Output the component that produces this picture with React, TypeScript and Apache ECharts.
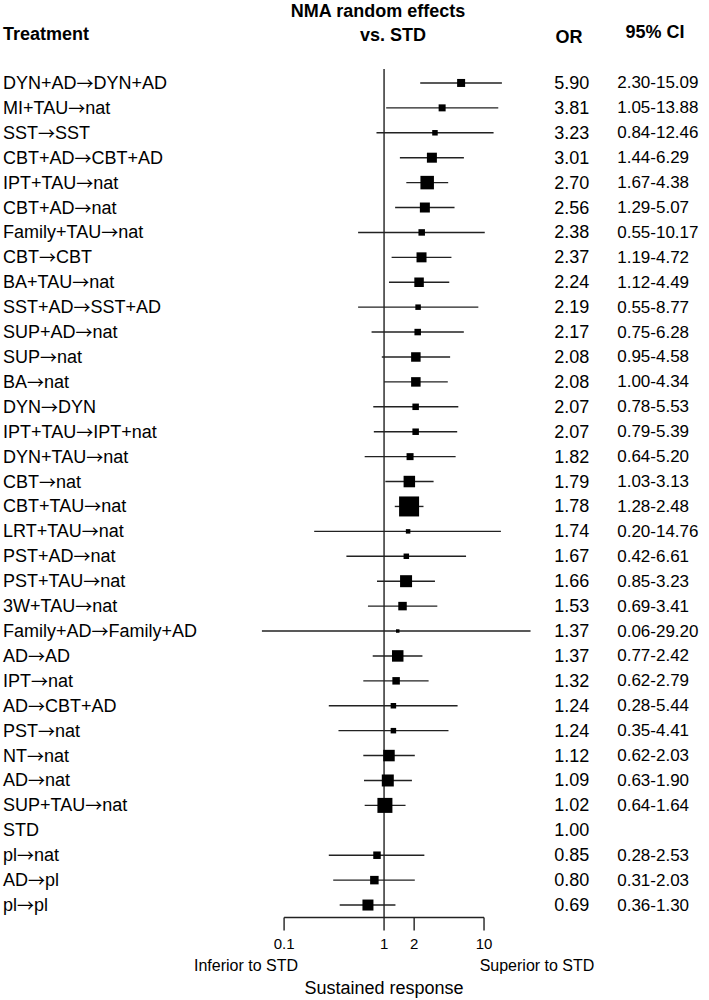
import React, { useEffect, useRef } from "react";
import * as echarts from "echarts";

const treatments = [
  "DYN+AD→DYN+AD", "MI+TAU→nat", "SST→SST", "CBT+AD→CBT+AD", "IPT+TAU→nat",
  "CBT+AD→nat", "Family+TAU→nat", "CBT→CBT", "BA+TAU→nat", "SST+AD→SST+AD",
  "SUP+AD→nat", "SUP→nat", "BA→nat", "DYN→DYN", "IPT+TAU→IPT+nat",
  "DYN+TAU→nat", "CBT→nat", "CBT+TAU→nat", "LRT+TAU→nat", "PST+AD→nat",
  "PST+TAU→nat", "3W+TAU→nat", "Family+AD→Family+AD", "AD→AD", "IPT→nat",
  "AD→CBT+AD", "PST→nat", "NT→nat", "AD→nat", "SUP+TAU→nat",
  "STD", "pl→nat", "AD→pl", "pl→pl",
];
const orValues = [
  5.9, 3.81, 3.23, 3.01, 2.7, 2.56, 2.38, 2.37, 2.24, 2.19,
  2.17, 2.08, 2.08, 2.07, 2.07, 1.82, 1.79, 1.78, 1.74, 1.67,
  1.66, 1.53, 1.37, 1.37, 1.32, 1.24, 1.24, 1.12, 1.09, 1.02,
  1.0, 0.85, 0.8, 0.69,
];
const ciLow: (number | null)[] = [
  2.3, 1.05, 0.84, 1.44, 1.67, 1.29, 0.55, 1.19, 1.12, 0.55,
  0.75, 0.95, 1.0, 0.78, 0.79, 0.64, 1.03, 1.28, 0.2, 0.42,
  0.85, 0.69, 0.06, 0.77, 0.62, 0.28, 0.35, 0.62, 0.63, 0.64,
  null, 0.28, 0.31, 0.36,
];
const ciHigh: (number | null)[] = [
  15.09, 13.88, 12.46, 6.29, 4.38, 5.07, 10.17, 4.72, 4.49, 8.77,
  6.28, 4.58, 4.34, 5.53, 5.39, 5.2, 3.13, 2.48, 14.76, 6.61,
  3.23, 3.41, 29.2, 2.42, 2.79, 5.44, 4.41, 2.03, 1.9, 1.64,
  null, 2.53, 2.03, 1.3,
];
const markerSize = [
  8, 7, 5.5, 10, 13.5, 10, 6.5, 10, 9.5, 5.5,
  6.5, 9.5, 9.5, 6.5, 6.5, 7, 11.5, 20, 4.5, 5.5,
  12, 8.5, 3.5, 11.5, 7.5, 5.5, 5.5, 11.5, 12, 15,
  0, 7.5, 8.5, 11,
];
const xTicks = [0.1, 1, 2, 10];
const xTickLabels = ["0.1", "1", "2", "10"];
const axisRange = [0.1, 10];

const FONT = "'Liberation Sans', Arial, sans-serif";

export default function App() {
  const ref = useRef<HTMLDivElement>(null);
  useEffect(() => {
    if (!ref.current) return;
    const chart = echarts.init(ref.current, undefined, { renderer: "svg" });
    const orLabels = orValues.map((v) => v.toFixed(2));
    const ciLabels = ciLow.map((lo, i) =>
      lo == null || ciHigh[i] == null ? "" : `${lo.toFixed(2)}-${(ciHigh[i] as number).toFixed(2)}`
    );
    const ciData: number[][] = [];
    ciLow.forEach((lo, i) => {
      const hi = ciHigh[i];
      if (lo != null && hi != null) ciData.push([lo, hi, i]);
    });
    const pointData = orValues
      .map((v, i) => (markerSize[i] > 0 ? { value: [v, i], symbolSize: markerSize[i] } : null))
      .filter((d) => d !== null);

    const catAxisBase = {
      type: "category" as const,
      data: treatments,
      inverse: true,
      axisLine: { show: false },
      axisTick: { show: false },
      splitLine: { show: false },
    };

    chart.setOption({
      animation: false,
      backgroundColor: "#fff",
      grid: { left: 253.9, width: 290.31, top: 70.5, height: 847 },
      xAxis: {
        type: "log",
        min: 0.05,
        max: 40,
        show: false,
      },
      yAxis: [
        {
          ...catAxisBase,
          position: "left",
          axisLabel: {
            align: "left",
            margin: 251,
            fontSize: 18,
            color: "#000",
            fontFamily: FONT,
            interval: 0,
            formatter: (v: string) =>
              v
                .split("→")
                .map((p) => `{t|${p}}`)
                .join("{ar|→}"),
            rich: {
              t: { fontSize: 18, fontFamily: FONT, color: "#000" },
              ar: { fontSize: 17, fontFamily: "'Noto Sans CJK SC'", color: "#000", padding: [0, 0, 1, 0] },
            },
          },
        },
        {
          ...catAxisBase,
          position: "right",
          axisLabel: {
            align: "left",
            margin: 10,
            fontSize: 18,
            color: "#000",
            fontFamily: FONT,
            interval: 0,
            formatter: (_v: string, idx: number) => orLabels[idx],
          },
        },
        {
          ...catAxisBase,
          position: "right",
          axisLabel: {
            align: "left",
            margin: 73,
            fontSize: 17,
            color: "#000",
            fontFamily: FONT,
            interval: 0,
            formatter: (_v: string, idx: number) => ciLabels[idx],
          },
        },
      ],
      series: [
        {
          type: "custom",
          name: "axis",
          data: [axisRange],
          encode: { x: [0, 1] },
          renderItem: (params: any, api: any) => {
            const cs = params.coordSys;
            const bottom = cs.y + cs.height;
            const a = api.coord([api.value(0), 0])[0];
            const b = api.coord([api.value(1), 0])[0];
            return {
              type: "line",
              shape: { x1: a, y1: bottom, x2: b, y2: bottom },
              style: { stroke: "#222", lineWidth: 1.4 },
            };
          },
          silent: true,
        },
        {
          type: "custom",
          name: "ticks",
          data: xTicks.map((v, i) => [v, i]),
          encode: { x: 0 },
          renderItem: (params: any, api: any) => {
            const cs = params.coordSys;
            const bottom = cs.y + cs.height;
            const v = api.value(0);
            const x = api.coord([v, 0])[0];
            const idx = api.value(1);
            const top = v === 1 ? cs.y - 1.5 : bottom;
            return {
              type: "group",
              children: [
                {
                  type: "line",
                  shape: { x1: x, y1: top, x2: x, y2: bottom + 13 },
                  style: { stroke: "#222", lineWidth: 1.4 },
                },
                {
                  type: "text",
                  x: x,
                  y: bottom + 26,
                  style: {
                    text: xTickLabels[idx],
                    textAlign: "center",
                    textVerticalAlign: "middle",
                    fontSize: 15,
                    fontFamily: FONT,
                    fill: "#000",
                  },
                },
              ],
            };
          },
          silent: true,
        },
        {
          type: "custom",
          name: "ci",
          data: ciData,
          encode: { x: [0, 1], y: 2 },
          renderItem: (params: any, api: any) => {
            const y = api.value(2);
            const p1 = api.coord([api.value(0), y]);
            const p2 = api.coord([api.value(1), y]);
            return {
              type: "line",
              shape: { x1: p1[0], y1: p1[1], x2: p2[0], y2: p2[1] },
              style: { stroke: "#222", lineWidth: 1.4 },
            };
          },
          silent: true,
        },
        {
          type: "scatter",
          name: "OR",
          symbol: "rect",
          data: pointData,
          itemStyle: { color: "#000", opacity: 1 },
          silent: true,
        },
      ],
      graphic: [
        {
          type: "text",
          x: 3,
          y: 34,
          style: { text: "Treatment", textAlign: "left", textVerticalAlign: "middle", fontSize: 18, fontWeight: "bold", fontFamily: FONT, fill: "#000" },
        },
        {
          type: "text",
          x: 378,
          y: 11,
          style: { text: "NMA random effects", textAlign: "center", textVerticalAlign: "middle", fontSize: 18, fontWeight: "bold", fontFamily: FONT, fill: "#000" },
        },
        {
          type: "text",
          x: 393,
          y: 35,
          style: { text: "vs. STD", textAlign: "center", textVerticalAlign: "middle", fontSize: 18, fontWeight: "bold", fontFamily: FONT, fill: "#000" },
        },
        {
          type: "text",
          x: 569,
          y: 37,
          style: { text: "OR", textAlign: "center", textVerticalAlign: "middle", fontSize: 18, fontWeight: "bold", fontFamily: FONT, fill: "#000" },
        },
        {
          type: "text",
          x: 655,
          y: 32,
          style: { text: "95% CI", textAlign: "center", textVerticalAlign: "middle", fontSize: 18, fontWeight: "bold", fontFamily: FONT, fill: "#000" },
        },
        {
          type: "text",
          x: 246,
          y: 965,
          style: { text: "Inferior to STD", textAlign: "center", textVerticalAlign: "middle", fontSize: 16, fontFamily: FONT, fill: "#000" },
        },
        {
          type: "text",
          x: 537,
          y: 965,
          style: { text: "Superior to STD", textAlign: "center", textVerticalAlign: "middle", fontSize: 16, fontFamily: FONT, fill: "#000" },
        },
        {
          type: "text",
          x: 384,
          y: 988,
          style: { text: "Sustained response", textAlign: "center", textVerticalAlign: "middle", fontSize: 18, fontFamily: FONT, fill: "#000" },
        },
      ],
    });
    return () => chart.dispose();
  }, []);
  return (
    <div
      ref={ref}
      style={{ position: "absolute", left: 0, top: 0, width: 709, height: 1000, background: "#fff" }}
    />
  );
}
